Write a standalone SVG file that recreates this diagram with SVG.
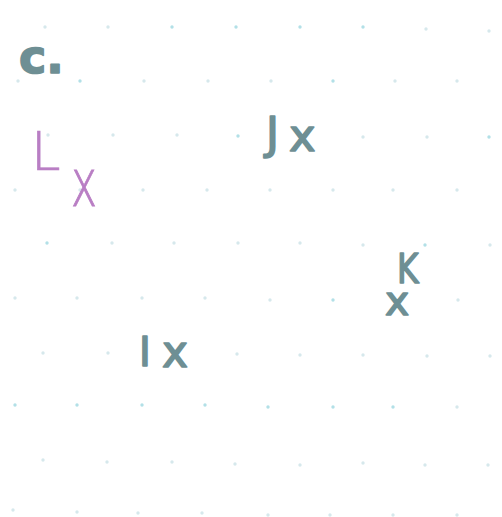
<svg xmlns="http://www.w3.org/2000/svg" width="502" height="517" viewBox="0 0 502 517">
  <style>
    .d { fill: #d6e8ec; }
    .c { fill: #b2e0e7; }
    .teal { fill: #6e8f94; stroke: #6e8f94; stroke-width: 1.6; stroke-linejoin: round; font-family: "DejaVu Sans", "Liberation Sans", sans-serif; }
    .purple { fill: #b97ec4; stroke: #b97ec4; stroke-width: 0.7; font-family: "DejaVu Sans", "Liberation Sans", sans-serif; font-weight: 200; }
  </style>
  <rect width="502" height="517" fill="#ffffff"/>
  <g id="dots">
    <circle class="d" cx="45" cy="27" r="1.7"/><circle class="d" cx="108" cy="27" r="1.7"/><circle class="c" cx="172" cy="27" r="1.7"/><circle class="c" cx="236" cy="27" r="1.7"/><circle class="c" cx="300" cy="27" r="1.7"/><circle class="c" cx="363" cy="27" r="1.7"/><circle class="d" cx="426" cy="29" r="1.7"/><circle class="d" cx="489" cy="31" r="1.7"/>
    <circle class="d" cx="18" cy="81" r="1.7"/><circle class="c" cx="80" cy="81" r="1.7"/><circle class="d" cx="144" cy="81" r="1.7"/><circle class="d" cx="208" cy="81" r="1.7"/><circle class="d" cx="271" cy="81" r="1.7"/><circle class="c" cx="333" cy="81" r="1.7"/><circle class="d" cx="395" cy="81" r="1.7"/><circle class="d" cx="457" cy="81" r="1.7"/>
    <circle class="d" cx="48" cy="135" r="1.7"/><circle class="d" cx="113" cy="135" r="1.7"/><circle class="d" cx="177" cy="135" r="1.7"/><circle class="c" cx="238" cy="136" r="1.7"/><circle class="d" cx="363" cy="137" r="1.7"/><circle class="d" cx="427" cy="137" r="1.7"/><circle class="c" cx="489" cy="137" r="1.7"/>
    <circle class="d" cx="15" cy="190" r="1.7"/><circle class="d" cx="80" cy="190" r="1.7"/><circle class="d" cx="143" cy="190" r="1.7"/><circle class="d" cx="207" cy="190" r="1.7"/><circle class="d" cx="270" cy="190" r="1.7"/><circle class="d" cx="333" cy="190" r="1.7"/><circle class="d" cx="393" cy="190" r="1.7"/><circle class="d" cx="457" cy="190" r="1.7"/>
    <circle class="c" cx="47" cy="243" r="1.7"/><circle class="d" cx="112" cy="243" r="1.7"/><circle class="d" cx="174" cy="243" r="1.7"/><circle class="d" cx="238" cy="243" r="1.7"/><circle class="d" cx="300" cy="243" r="1.7"/><circle class="d" cx="363" cy="245" r="1.7"/><circle class="c" cx="425" cy="245" r="1.7"/><circle class="d" cx="490" cy="245" r="1.7"/>
    <circle class="d" cx="15" cy="298" r="1.7"/><circle class="d" cx="77" cy="298" r="1.7"/><circle class="d" cx="142" cy="298" r="1.7"/><circle class="d" cx="205" cy="298" r="1.7"/><circle class="d" cx="270" cy="300" r="1.7"/><circle class="c" cx="333" cy="300" r="1.7"/><circle class="d" cx="458" cy="300" r="1.7"/>
    <circle class="d" cx="43" cy="353" r="1.7"/><circle class="d" cx="108" cy="353" r="1.7"/><circle class="d" cx="237" cy="354" r="1.7"/><circle class="d" cx="300" cy="355" r="1.7"/><circle class="d" cx="363" cy="355" r="1.7"/><circle class="d" cx="427" cy="356" r="1.7"/><circle class="d" cx="490" cy="356" r="1.7"/>
    <circle class="c" cx="15" cy="405" r="1.7"/><circle class="c" cx="77" cy="405" r="1.7"/><circle class="c" cx="142" cy="405" r="1.7"/><circle class="c" cx="205" cy="405" r="1.7"/><circle class="c" cx="268" cy="407" r="1.7"/><circle class="c" cx="333" cy="407" r="1.7"/><circle class="c" cx="393" cy="407" r="1.7"/><circle class="d" cx="457" cy="407" r="1.7"/>
    <circle class="d" cx="43" cy="460" r="1.7"/><circle class="d" cx="107" cy="462" r="1.7"/><circle class="d" cx="172" cy="462" r="1.7"/><circle class="d" cx="235" cy="464" r="1.7"/><circle class="d" cx="300" cy="465" r="1.7"/><circle class="d" cx="363" cy="463" r="1.7"/><circle class="d" cx="425" cy="465" r="1.7"/><circle class="d" cx="488" cy="465" r="1.7"/>
    <circle class="d" cx="13" cy="510" r="1.7"/><circle class="d" cx="77" cy="512" r="1.7"/><circle class="d" cx="138" cy="513" r="1.7"/><circle class="d" cx="202" cy="513" r="1.7"/><circle class="d" cx="268" cy="515" r="1.7"/><circle class="d" cx="330" cy="515" r="1.7"/><circle class="d" cx="393" cy="515" r="1.7"/><circle class="d" cx="457" cy="515" r="1.7"/>
  </g>
  <g id="title">
    <text class="teal" x="19" y="73" font-size="46" font-weight="bold">c.</text>
  </g>
  <g id="point-L">
    <text class="purple" x="31" y="170" font-size="53">L</text>
    <text class="purple" transform="translate(71 206) scale(1 1.5)" font-size="44">x</text>
  </g>
  <g id="point-J">
    <text class="teal" x="266" y="149" font-size="44">J</text>
    <text class="teal" x="289" y="151" font-size="45">x</text>
  </g>
  <g id="point-K">
    <text class="teal" transform="translate(397 283) scale(0.82 1)" font-size="40">K</text>
    <text class="teal" x="385" y="315" font-size="41">x</text>
  </g>
  <g id="point-I">
    <text class="teal" x="139" y="366" font-size="40">I</text>
    <text class="teal" x="162" y="367" font-size="44">x</text>
  </g>
</svg>
